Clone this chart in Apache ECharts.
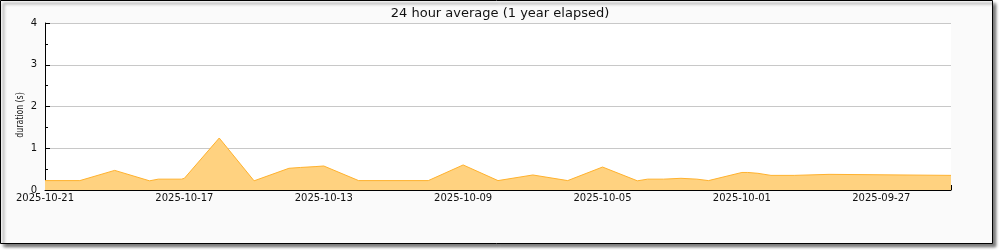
<!DOCTYPE html>
<html>
<head>
<meta charset="utf-8">
<script src="https://cdn.jsdelivr.net/npm/echarts@6/dist/echarts.min.js"></script>
<style>
html,body{margin:0;padding:0;background:#fff;}
#chart{width:1000px;height:250px;}
</style>
</head>
<body>
<div id="chart"></div>
<script>
const titleText = '24 hour average (1 year elapsed)';
const yAxisName = 'duration (s)';
const times = ['2025-10-21 00:00','2025-10-20 00:00','2025-10-19 00:00','2025-10-18 00:00','2025-10-17 18:00','2025-10-17 02:00','2025-10-17 00:00','2025-10-16 00:00','2025-10-15 00:00','2025-10-14 00:00','2025-10-13 16:00','2025-10-13 06:00','2025-10-13 00:00','2025-10-12 00:00','2025-10-10 00:00','2025-10-09 00:00','2025-10-08 00:00','2025-10-07 00:00','2025-10-06 00:00','2025-10-05 00:00','2025-10-04 00:00','2025-10-03 17:00','2025-10-03 06:00','2025-10-03 05:00','2025-10-02 18:00','2025-10-02 17:00','2025-10-02 07:00','2025-10-02 06:00','2025-10-01 23:00','2025-10-01 00:00','2025-09-30 20:00','2025-09-30 19:00','2025-09-30 13:00','2025-09-30 12:00','2025-09-30 04:00','2025-09-29 12:00','2025-09-29 11:00','2025-09-28 12:00','2025-09-28 11:00','2025-09-25 00:00'];
const durations = [0.225,0.225,0.47,0.22,0.26,0.26,0.28,1.245,0.22,0.52,0.54,0.56,0.575,0.225,0.225,0.60,0.225,0.36,0.225,0.55,0.22,0.26,0.26,0.28,0.28,0.26,0.26,0.225,0.225,0.42,0.42,0.40,0.40,0.375,0.35,0.35,0.375,0.375,0.35,0.35];
const xStart = '2025-09-25 00:00';
const xEnd = '2025-10-21 00:00';
const yTicks = [0, 1, 2, 3, 4];

function parseUTC(s) {
  const m = s.match(/(\d+)-(\d+)-(\d+) (\d+):(\d+)/);
  return Date.UTC(+m[1], +m[2] - 1, +m[3], +m[4], +m[5]);
}
function fmt(ms) {
  const d = new Date(ms);
  const p = n => (n < 10 ? '0' : '') + n;
  return d.getUTCFullYear() + '-' + p(d.getUTCMonth() + 1) + '-' + p(d.getUTCDate());
}
const DAY = 86400000;
const xMin = parseUTC(xStart), xMax = parseUTC(xEnd);
const seriesData = times.map((t, i) => [parseUTC(t), durations[i]]);

const chart = echarts.init(document.getElementById('chart'), null, {renderer: 'canvas'});
const font = 'DejaVu Sans';
chart.setOption({
  animation: false,
  backgroundColor: '#fff',
  textStyle: {fontFamily: font},
  graphic: [{
    type: 'rect', z: -10, silent: true,
    shape: {x: 0.5, y: 0.5, width: 992, height: 243},
    style: {fill: '#fafafa', stroke: '#000', lineWidth: 1,
      shadowBlur: 3, shadowOffsetX: 3, shadowOffsetY: 3, shadowColor: 'rgba(0,0,0,0.55)'}
  }, {
    type: 'text', silent: true, x: 20, y: 115, rotation: Math.PI / 2, scaleX: 0.78, scaleY: 1,
    style: {text: yAxisName, fontFamily: font, fontSize: 10, fill: '#111', align: 'center', verticalAlign: 'middle'}
  }],
  title: {
    text: titleText, left: 'center', top: 2,
    textStyle: {fontFamily: font, fontSize: 13, fontWeight: 'normal', color: '#111'}
  },
  grid: {left: 45, right: 49, top: 23, bottom: 60, show: true, backgroundColor: '#fff', borderWidth: 0},
  xAxis: {
    type: 'value', inverse: true, min: xMin, max: xMax, interval: 2 * DAY,
    axisLine: {show: true, lineStyle: {color: '#000', width: 1}},
    axisTick: {show: true, inside: true, length: 5, lineStyle: {color: '#000'}},
    splitLine: {show: false},
    axisLabel: {
      show: true, margin: 3, fontFamily: font, fontSize: 10, color: '#111',
      showMinLabel: true, showMaxLabel: true,
      formatter: v => (Math.round((xMax - v) / (2 * DAY)) % 2 === 0 ? fmt(v) : '')
    }
  },
  yAxis: {
    type: 'value', min: yTicks[0], max: yTicks[yTicks.length - 1], interval: 1,
    axisLine: {show: true, lineStyle: {color: '#000', width: 1}},
    axisTick: {show: true, inside: true, length: 5, lineStyle: {color: '#000'}},
    minorTick: {show: true, splitNumber: 2, length: 3, lineStyle: {color: '#000'}},
    splitLine: {show: true, lineStyle: {color: '#c8c8c8', width: 1}},
    axisLabel: {margin: 8, fontFamily: font, fontSize: 10, color: '#111'}
  },
  series: [{
    type: 'line', data: seriesData, showSymbol: false, symbol: 'none',
    lineStyle: {color: '#ffb22e', width: 1},
    areaStyle: {color: '#ffd280', opacity: 1},
    itemStyle: {color: '#ffb22e'}
  }]
});
</script>
</body>
</html>
